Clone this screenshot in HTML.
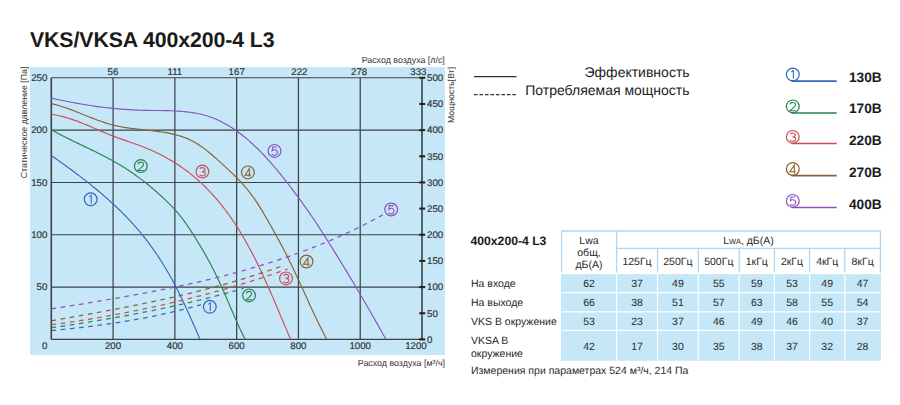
<!DOCTYPE html><html><head><meta charset="utf-8"><style>html,body{margin:0;padding:0;background:#fff;width:900px;height:405px;overflow:hidden}svg{display:block}text{font-family:"Liberation Sans", sans-serif;text-rendering:geometricPrecision}</style></head><body>
<svg width="900" height="405" viewBox="0 0 900 405">
<style>.ax{stroke:#333;stroke-width:0.18px}</style>
<text x="30" y="47" font-size="21.3" font-weight="bold" fill="#1a1a1a" textLength="244.5" lengthAdjust="spacing">VKS/VKSA 400x200-4 L3</text>
<rect x="30" y="67" width="415" height="288" fill="#c6e7f7"/>
<line x1="113.08" y1="77.80" x2="113.08" y2="339.40" stroke="#3c4247" stroke-width="1.25"/><line x1="174.87" y1="77.80" x2="174.87" y2="339.40" stroke="#3c4247" stroke-width="1.25"/><line x1="236.65" y1="77.80" x2="236.65" y2="339.40" stroke="#3c4247" stroke-width="1.25"/><line x1="298.43" y1="77.80" x2="298.43" y2="339.40" stroke="#3c4247" stroke-width="1.25"/><line x1="360.22" y1="77.80" x2="360.22" y2="339.40" stroke="#3c4247" stroke-width="1.25"/><line x1="51.30" y1="339.40" x2="422.00" y2="339.40" stroke="#3c4247" stroke-width="1.1"/><line x1="51.30" y1="287.08" x2="422.00" y2="287.08" stroke="#3c4247" stroke-width="1.1"/><line x1="51.30" y1="234.76" x2="422.00" y2="234.76" stroke="#3c4247" stroke-width="1.1"/><line x1="51.30" y1="182.44" x2="422.00" y2="182.44" stroke="#3c4247" stroke-width="1.1"/><line x1="51.30" y1="130.12" x2="422.00" y2="130.12" stroke="#3c4247" stroke-width="1.1"/><line x1="51.30" y1="77.80" x2="422.00" y2="77.80" stroke="#3c4247" stroke-width="1.1"/><line x1="51.30" y1="77.80" x2="51.30" y2="339.40" stroke="#3c4247" stroke-width="1.6"/><line x1="422.00" y1="77.80" x2="422.00" y2="339.40" stroke="#3c4247" stroke-width="1.6"/><line x1="419.3" y1="339.40" x2="425.2" y2="339.40" stroke="#222" stroke-width="2.1"/><line x1="419.3" y1="313.24" x2="425.2" y2="313.24" stroke="#222" stroke-width="2.1"/><line x1="419.3" y1="287.08" x2="425.2" y2="287.08" stroke="#222" stroke-width="2.1"/><line x1="419.3" y1="260.92" x2="425.2" y2="260.92" stroke="#222" stroke-width="2.1"/><line x1="419.3" y1="234.76" x2="425.2" y2="234.76" stroke="#222" stroke-width="2.1"/><line x1="419.3" y1="208.60" x2="425.2" y2="208.60" stroke="#222" stroke-width="2.1"/><line x1="419.3" y1="182.44" x2="425.2" y2="182.44" stroke="#222" stroke-width="2.1"/><line x1="419.3" y1="156.28" x2="425.2" y2="156.28" stroke="#222" stroke-width="2.1"/><line x1="419.3" y1="130.12" x2="425.2" y2="130.12" stroke="#222" stroke-width="2.1"/><line x1="419.3" y1="103.96" x2="425.2" y2="103.96" stroke="#222" stroke-width="2.1"/><line x1="419.3" y1="77.80" x2="425.2" y2="77.80" stroke="#222" stroke-width="2.1"/>
<path d="M51.28,155.55 L52.93,156.69 L54.57,157.84 L56.21,159.00 L57.86,160.15 L59.50,161.31 L61.14,162.48 L62.78,163.65 L64.42,164.83 L66.06,166.01 L67.69,167.19 L69.33,168.39 L70.96,169.58 L72.59,170.78 L74.21,171.99 L75.84,173.20 L77.46,174.42 L79.08,175.65 L80.69,176.88 L82.30,178.11 L83.91,179.35 L85.51,180.60 L87.10,181.85 L88.70,183.11 L90.29,184.38 L91.87,185.65 L93.45,186.93 L95.02,188.22 L96.59,189.51 L98.15,190.81 L99.70,192.12 L101.25,193.43 L102.80,194.76 L104.33,196.08 L105.86,197.42 L107.38,198.76 L108.90,200.12 L110.40,201.47 L111.90,202.84 L113.40,204.21 L114.88,205.60 L116.35,206.99 L117.82,208.39 L119.28,209.79 L120.73,211.21 L122.17,212.63 L123.60,214.06 L125.02,215.50 L126.43,216.95 L127.83,218.41 L129.22,219.88 L130.60,221.36 L131.97,222.84 L133.33,224.34 L134.68,225.84 L136.01,227.35 L137.34,228.88 L138.65,230.41 L139.95,231.95 L141.24,233.50 L142.52,235.06 L143.78,236.64 L145.03,238.22 L146.27,239.81 L147.50,241.41 L148.72,243.02 L149.92,244.64 L151.11,246.27 L152.29,247.90 L153.46,249.55 L154.61,251.21 L155.76,252.87 L156.89,254.54 L158.01,256.22 L159.12,257.91 L160.22,259.60 L161.31,261.31 L162.39,263.02 L163.45,264.73 L164.51,266.46 L165.55,268.19 L166.59,269.93 L167.61,271.68 L168.62,273.43 L169.63,275.19 L170.62,276.96 L171.60,278.73 L172.57,280.51 L173.53,282.29 L174.49,284.08 L175.43,285.88 L176.36,287.68 L177.28,289.49 L178.20,291.30 L179.11,293.12 L180.00,294.94 L180.89,296.76 L181.78,298.59 L182.65,300.42 L183.52,302.26 L184.39,304.09 L185.24,305.94 L186.09,307.78 L186.94,309.62 L187.78,311.47 L188.62,313.32 L189.45,315.17 L190.27,317.02 L191.10,318.88 L191.92,320.73 L192.73,322.58 L193.55,324.44 L194.36,326.29 L195.17,328.14 L195.98,329.99 L196.78,331.85 L197.59,333.70 L198.39,335.55 L199.20,337.39 L200.00,339.24" fill="none" stroke="#3369b8" stroke-width="1.15"/>
<path d="M51.45,129.91 L53.63,131.09 L55.82,132.26 L58.02,133.41 L60.22,134.55 L62.43,135.68 L64.65,136.80 L66.88,137.91 L69.11,139.01 L71.34,140.11 L73.58,141.20 L75.82,142.29 L78.06,143.37 L80.31,144.46 L82.55,145.54 L84.80,146.62 L87.04,147.71 L89.28,148.80 L91.52,149.89 L93.76,150.99 L95.99,152.09 L98.22,153.20 L100.44,154.33 L102.66,155.46 L104.87,156.60 L107.07,157.76 L109.26,158.93 L111.45,160.11 L113.62,161.31 L115.78,162.53 L117.94,163.77 L120.08,165.03 L122.20,166.30 L124.31,167.60 L126.41,168.93 L128.50,170.27 L130.56,171.65 L132.61,173.04 L134.65,174.46 L136.67,175.91 L138.68,177.37 L140.67,178.86 L142.65,180.37 L144.61,181.89 L146.55,183.44 L148.49,185.01 L150.41,186.59 L152.31,188.20 L154.20,189.82 L156.08,191.45 L157.95,193.11 L159.80,194.77 L161.63,196.46 L163.46,198.15 L165.26,199.87 L167.05,201.60 L168.82,203.35 L170.56,205.12 L172.28,206.91 L173.97,208.73 L175.64,210.56 L177.27,212.43 L178.87,214.31 L180.44,216.23 L181.97,218.17 L183.47,220.14 L184.93,222.14 L186.36,224.16 L187.77,226.20 L189.15,228.26 L190.52,230.33 L191.86,232.42 L193.20,234.51 L194.53,236.61 L195.85,238.72 L197.16,240.84 L198.46,242.96 L199.75,245.09 L201.03,247.23 L202.30,249.38 L203.55,251.53 L204.80,253.69 L206.03,255.86 L207.24,258.03 L208.44,260.21 L209.63,262.40 L210.80,264.60 L211.96,266.80 L213.10,269.01 L214.23,271.23 L215.33,273.46 L216.42,275.69 L217.49,277.93 L218.55,280.18 L219.60,282.44 L220.63,284.69 L221.65,286.96 L222.66,289.22 L223.66,291.50 L224.66,293.77 L225.65,296.05 L226.63,298.33 L227.62,300.61 L228.60,302.89 L229.58,305.17 L230.56,307.46 L231.54,309.74 L232.52,312.02 L233.51,314.30 L234.51,316.58 L235.51,318.85 L236.52,321.12 L237.54,323.39 L238.57,325.66 L239.62,327.92 L240.68,330.17 L241.75,332.42 L242.84,334.66 L243.94,336.89 L245.07,339.12" fill="none" stroke="#26844c" stroke-width="1.15"/>
<path d="M51.40,114.29 L54.34,114.75 L57.25,115.30 L60.12,115.94 L62.97,116.64 L65.79,117.41 L68.58,118.25 L71.36,119.14 L74.11,120.09 L76.85,121.08 L79.57,122.11 L82.28,123.18 L84.98,124.27 L87.67,125.39 L90.35,126.53 L93.03,127.68 L95.71,128.83 L98.39,129.99 L101.07,131.14 L103.76,132.29 L106.45,133.42 L109.15,134.52 L111.87,135.60 L114.60,136.65 L117.35,137.67 L120.10,138.66 L122.86,139.64 L125.63,140.60 L128.40,141.56 L131.17,142.52 L133.93,143.49 L136.69,144.47 L139.44,145.48 L142.18,146.51 L144.90,147.58 L147.60,148.68 L150.28,149.83 L152.95,151.01 L155.60,152.24 L158.22,153.50 L160.83,154.81 L163.41,156.15 L165.97,157.53 L168.51,158.96 L171.03,160.42 L173.52,161.93 L175.99,163.48 L178.43,165.06 L180.85,166.69 L183.24,168.36 L185.60,170.07 L187.94,171.82 L190.24,173.62 L192.52,175.45 L194.77,177.33 L196.99,179.24 L199.18,181.19 L201.33,183.18 L203.46,185.20 L205.55,187.25 L207.62,189.34 L209.65,191.45 L211.65,193.59 L213.61,195.75 L215.55,197.94 L217.45,200.15 L219.32,202.39 L221.15,204.65 L222.96,206.93 L224.74,209.23 L226.48,211.55 L228.20,213.89 L229.89,216.25 L231.56,218.63 L233.20,221.03 L234.81,223.45 L236.39,225.88 L237.96,228.33 L239.50,230.80 L241.01,233.28 L242.50,235.78 L243.98,238.29 L245.43,240.82 L246.86,243.36 L248.27,245.91 L249.66,248.48 L251.03,251.05 L252.39,253.64 L253.73,256.24 L255.05,258.85 L256.35,261.47 L257.65,264.09 L258.92,266.73 L260.19,269.37 L261.44,272.02 L262.68,274.68 L263.90,277.34 L265.12,280.01 L266.33,282.69 L267.52,285.36 L268.71,288.05 L269.89,290.73 L271.06,293.42 L272.23,296.11 L273.39,298.80 L274.54,301.50 L275.69,304.19 L276.84,306.88 L277.98,309.58 L279.12,312.27 L280.26,314.96 L281.39,317.64 L282.53,320.33 L283.66,323.01 L284.80,325.69 L285.94,328.36 L287.08,331.03 L288.22,333.69 L289.36,336.35 L290.51,339.00" fill="none" stroke="#cc4d58" stroke-width="1.15"/>
<path d="M51.40,103.57 L54.58,104.35 L57.74,105.23 L60.87,106.18 L63.99,107.20 L67.09,108.28 L70.18,109.40 L73.25,110.57 L76.32,111.77 L79.38,112.99 L82.44,114.22 L85.49,115.45 L88.55,116.68 L91.60,117.89 L94.67,119.07 L97.73,120.22 L100.81,121.33 L103.90,122.37 L107.00,123.36 L110.12,124.27 L113.26,125.10 L116.41,125.85 L119.59,126.51 L122.78,127.10 L125.99,127.62 L129.22,128.10 L132.47,128.53 L135.73,128.92 L139.01,129.30 L142.30,129.66 L145.61,130.01 L148.92,130.37 L152.24,130.74 L155.56,131.14 L158.87,131.57 L162.17,132.05 L165.45,132.58 L168.70,133.17 L171.92,133.84 L175.11,134.59 L178.26,135.44 L181.36,136.38 L184.40,137.44 L187.39,138.62 L190.31,139.94 L193.16,141.39 L195.95,142.97 L198.68,144.68 L201.35,146.49 L203.98,148.39 L206.56,150.38 L209.11,152.44 L211.63,154.56 L214.12,156.73 L216.59,158.94 L219.05,161.17 L221.50,163.41 L223.94,165.65 L226.38,167.89 L228.81,170.15 L231.22,172.41 L233.60,174.69 L235.95,177.00 L238.27,179.33 L240.54,181.69 L242.77,184.08 L244.94,186.52 L247.04,189.00 L249.09,191.53 L251.06,194.11 L252.98,196.73 L254.85,199.39 L256.66,202.09 L258.43,204.82 L260.16,207.57 L261.86,210.36 L263.53,213.16 L265.18,215.98 L266.82,218.82 L268.44,221.66 L270.06,224.51 L271.67,227.37 L273.28,230.23 L274.87,233.10 L276.46,235.97 L278.03,238.85 L279.59,241.74 L281.14,244.63 L282.68,247.53 L284.19,250.44 L285.70,253.36 L287.18,256.28 L288.64,259.21 L290.09,262.15 L291.52,265.10 L292.93,268.06 L294.34,271.01 L295.73,273.98 L297.11,276.95 L298.48,279.92 L299.85,282.89 L301.21,285.87 L302.57,288.85 L303.93,291.83 L305.28,294.81 L306.64,297.79 L308.00,300.77 L309.36,303.74 L310.73,306.72 L312.11,309.69 L313.50,312.66 L314.89,315.62 L316.30,318.58 L317.72,321.53 L319.16,324.48 L320.61,327.42 L322.08,330.35 L323.57,333.28 L325.08,336.19 L326.61,339.10" fill="none" stroke="#886333" stroke-width="1.15"/>
<path d="M51.37,98.11 L55.13,98.94 L58.89,99.76 L62.63,100.54 L66.36,101.30 L70.07,102.03 L73.78,102.73 L77.48,103.40 L81.17,104.05 L84.86,104.66 L88.55,105.25 L92.23,105.80 L95.91,106.33 L99.59,106.83 L103.27,107.29 L106.96,107.73 L110.65,108.13 L114.35,108.51 L118.05,108.85 L121.77,109.15 L125.49,109.43 L129.23,109.67 L132.98,109.88 L136.75,110.06 L140.53,110.21 L144.33,110.32 L148.14,110.39 L151.98,110.45 L155.82,110.50 L159.66,110.54 L163.51,110.60 L167.35,110.69 L171.19,110.80 L175.02,110.97 L178.82,111.18 L182.61,111.47 L186.38,111.83 L190.11,112.28 L193.81,112.84 L197.48,113.50 L201.10,114.29 L204.68,115.21 L208.20,116.28 L211.68,117.49 L215.10,118.84 L218.47,120.33 L221.79,121.94 L225.06,123.67 L228.29,125.52 L231.46,127.47 L234.58,129.53 L237.66,131.69 L240.68,133.94 L243.66,136.27 L246.60,138.68 L249.48,141.17 L252.32,143.72 L255.12,146.33 L257.87,148.99 L260.57,151.70 L263.23,154.46 L265.85,157.25 L268.42,160.07 L270.95,162.92 L273.44,165.78 L275.89,168.66 L278.30,171.55 L280.67,174.46 L283.02,177.38 L285.34,180.32 L287.63,183.26 L289.90,186.23 L292.15,189.20 L294.39,192.19 L296.61,195.18 L298.83,198.19 L301.04,201.21 L303.24,204.24 L305.42,207.29 L307.59,210.35 L309.75,213.43 L311.88,216.53 L313.99,219.64 L316.08,222.77 L318.15,225.92 L320.21,229.08 L322.25,232.24 L324.29,235.42 L326.31,238.60 L328.32,241.79 L330.32,244.99 L332.32,248.18 L334.31,251.38 L336.29,254.59 L338.27,257.79 L340.24,261.00 L342.21,264.22 L344.16,267.43 L346.11,270.65 L348.06,273.87 L350.00,277.10 L351.93,280.33 L353.86,283.56 L355.78,286.80 L357.69,290.04 L359.60,293.28 L361.50,296.53 L363.40,299.77 L365.29,303.03 L367.18,306.28 L369.06,309.54 L370.94,312.80 L372.81,316.07 L374.67,319.33 L376.53,322.60 L378.39,325.88 L380.24,329.16 L382.08,332.44 L383.92,335.72 L385.76,339.01" fill="none" stroke="#8a52bc" stroke-width="1.15"/>
<path d="M51.50,330.51 L52.77,330.39 L54.04,330.28 L55.31,330.16 L56.58,330.04 L57.85,329.92 L59.12,329.80 L60.39,329.68 L61.66,329.55 L62.93,329.43 L64.20,329.30 L65.47,329.17 L66.74,329.04 L68.01,328.91 L69.27,328.78 L70.54,328.65 L71.81,328.51 L73.08,328.37 L74.35,328.23 L75.62,328.09 L76.89,327.95 L78.16,327.81 L79.43,327.67 L80.69,327.52 L81.96,327.37 L83.23,327.22 L84.50,327.07 L85.77,326.92 L87.03,326.77 L88.30,326.61 L89.57,326.46 L90.84,326.30 L92.10,326.14 L93.37,325.98 L94.64,325.81 L95.90,325.65 L97.17,325.48 L98.44,325.31 L99.70,325.14 L100.97,324.97 L102.23,324.80 L103.50,324.62 L104.76,324.44 L106.03,324.26 L107.29,324.08 L108.56,323.90 L109.82,323.72 L111.08,323.53 L112.35,323.34 L113.61,323.15 L114.87,322.96 L116.14,322.77 L117.40,322.57 L118.66,322.38 L119.92,322.18 L121.18,321.98 L122.44,321.77 L123.71,321.57 L124.97,321.36 L126.23,321.15 L127.49,320.94 L128.74,320.73 L130.00,320.52 L131.26,320.30 L132.52,320.08 L133.78,319.86 L135.04,319.64 L136.29,319.42 L137.55,319.19 L138.81,318.96 L140.06,318.73 L141.32,318.50 L142.57,318.26 L143.83,318.03 L145.08,317.79 L146.33,317.55 L147.59,317.30 L148.84,317.06 L150.09,316.81 L151.35,316.56 L152.60,316.31 L153.85,316.06 L155.10,315.80 L156.35,315.54 L157.60,315.28 L158.85,315.02 L160.10,314.76 L161.34,314.49 L162.59,314.22 L163.84,313.95 L165.08,313.67 L166.33,313.40 L167.58,313.12 L168.82,312.84 L170.06,312.56 L171.31,312.27 L172.55,311.98 L173.79,311.69 L175.04,311.40 L176.28,311.11 L177.52,310.81 L178.76,310.51 L180.00,310.21 L181.24,309.90 L182.48,309.60 L183.71,309.29 L184.95,308.98 L186.19,308.66 L187.42,308.34 L188.66,308.03 L189.89,307.70 L191.13,307.38 L192.36,307.05 L193.59,306.72 L194.82,306.39 L196.06,306.06 L197.29,305.72 L198.52,305.38 L199.74,305.04 L200.97,304.70" fill="none" stroke="#3369b8" stroke-width="1.25" stroke-dasharray="4.62 4.62"/>
<path d="M51.49,327.67 L53.12,327.43 L54.76,327.20 L56.39,326.97 L58.02,326.73 L59.65,326.50 L61.28,326.26 L62.91,326.02 L64.54,325.78 L66.18,325.54 L67.81,325.29 L69.44,325.05 L71.07,324.80 L72.70,324.56 L74.33,324.31 L75.95,324.06 L77.58,323.81 L79.21,323.56 L80.84,323.30 L82.47,323.05 L84.10,322.79 L85.72,322.53 L87.35,322.27 L88.98,322.01 L90.61,321.75 L92.23,321.48 L93.86,321.22 L95.48,320.95 L97.11,320.68 L98.74,320.41 L100.36,320.14 L101.99,319.87 L103.61,319.60 L105.23,319.32 L106.86,319.04 L108.48,318.76 L110.11,318.48 L111.73,318.20 L113.35,317.92 L114.97,317.63 L116.60,317.34 L118.22,317.05 L119.84,316.76 L121.46,316.47 L123.08,316.18 L124.70,315.88 L126.32,315.58 L127.94,315.29 L129.56,314.98 L131.18,314.68 L132.80,314.38 L134.42,314.07 L136.03,313.76 L137.65,313.45 L139.27,313.14 L140.88,312.83 L142.50,312.51 L144.12,312.20 L145.73,311.88 L147.35,311.56 L148.96,311.24 L150.58,310.91 L152.19,310.59 L153.80,310.26 L155.42,309.93 L157.03,309.60 L158.64,309.26 L160.25,308.93 L161.87,308.59 L163.48,308.25 L165.09,307.91 L166.70,307.56 L168.31,307.22 L169.92,306.87 L171.52,306.52 L173.13,306.17 L174.74,305.82 L176.35,305.46 L177.96,305.10 L179.56,304.74 L181.17,304.38 L182.77,304.02 L184.38,303.65 L185.98,303.28 L187.59,302.91 L189.19,302.54 L190.80,302.16 L192.40,301.79 L194.00,301.41 L195.60,301.03 L197.20,300.64 L198.80,300.26 L200.40,299.87 L202.00,299.48 L203.60,299.09 L205.20,298.69 L206.80,298.30 L208.40,297.90 L210.00,297.49 L211.59,297.09 L213.19,296.68 L214.78,296.28 L216.38,295.87 L217.97,295.45 L219.57,295.04 L221.16,294.62 L222.75,294.20 L224.35,293.78 L225.94,293.35 L227.53,292.92 L229.12,292.49 L230.71,292.06 L232.30,291.63 L233.89,291.19 L235.48,290.75 L237.07,290.31 L238.65,289.86 L240.24,289.42 L241.82,288.97 L243.41,288.51" fill="none" stroke="#26844c" stroke-width="1.25" stroke-dasharray="4.62 4.62"/>
<path d="M51.47,324.77 L53.50,324.49 L55.53,324.21 L57.55,323.93 L59.58,323.64 L61.61,323.36 L63.63,323.06 L65.66,322.77 L67.68,322.47 L69.71,322.17 L71.73,321.87 L73.75,321.56 L75.77,321.25 L77.80,320.94 L79.82,320.63 L81.84,320.31 L83.86,319.99 L85.88,319.66 L87.90,319.34 L89.92,319.01 L91.93,318.67 L93.95,318.34 L95.97,318.00 L97.98,317.65 L100.00,317.31 L102.01,316.96 L104.03,316.61 L106.04,316.25 L108.05,315.89 L110.06,315.53 L112.08,315.17 L114.09,314.80 L116.10,314.43 L118.11,314.06 L120.11,313.68 L122.12,313.30 L124.13,312.91 L126.14,312.53 L128.14,312.14 L130.15,311.74 L132.15,311.35 L134.15,310.95 L136.16,310.55 L138.16,310.14 L140.16,309.73 L142.16,309.32 L144.16,308.90 L146.16,308.48 L148.16,308.06 L150.16,307.63 L152.15,307.20 L154.15,306.77 L156.14,306.34 L158.14,305.90 L160.13,305.45 L162.13,305.01 L164.12,304.56 L166.11,304.10 L168.10,303.65 L170.09,303.19 L172.08,302.72 L174.07,302.26 L176.05,301.79 L178.04,301.31 L180.02,300.84 L182.01,300.36 L183.99,299.87 L185.97,299.39 L187.96,298.89 L189.94,298.40 L191.92,297.90 L193.90,297.40 L195.87,296.90 L197.85,296.39 L199.83,295.87 L201.80,295.36 L203.78,294.84 L205.75,294.32 L207.72,293.79 L209.69,293.26 L211.67,292.73 L213.64,292.19 L215.60,291.65 L217.57,291.10 L219.54,290.56 L221.50,290.00 L223.47,289.45 L225.43,288.89 L227.40,288.33 L229.36,287.76 L231.32,287.19 L233.28,286.61 L235.24,286.04 L237.19,285.46 L239.15,284.87 L241.11,284.28 L243.06,283.69 L245.01,283.09 L246.97,282.49 L248.92,281.89 L250.87,281.28 L252.82,280.67 L254.77,280.05 L256.71,279.43 L258.66,278.81 L260.60,278.18 L262.55,277.55 L264.49,276.92 L266.43,276.28 L268.37,275.64 L270.31,274.99 L272.25,274.34 L274.19,273.68 L276.12,273.03 L278.06,272.36 L279.99,271.70 L281.92,271.03 L283.85,270.35 L285.78,269.68 L287.71,268.99" fill="none" stroke="#cc4d58" stroke-width="1.25" stroke-dasharray="4.62 4.62"/>
<path d="M51.49,320.83 L53.44,320.48 L55.39,320.14 L57.35,319.79 L59.30,319.44 L61.25,319.09 L63.21,318.74 L65.16,318.39 L67.11,318.04 L69.07,317.69 L71.02,317.34 L72.97,316.99 L74.93,316.64 L76.88,316.29 L78.84,315.94 L80.79,315.58 L82.74,315.23 L84.70,314.87 L86.65,314.52 L88.60,314.16 L90.56,313.80 L92.51,313.44 L94.46,313.08 L96.42,312.72 L98.37,312.36 L100.32,312.00 L102.28,311.64 L104.23,311.27 L106.18,310.90 L108.13,310.53 L110.08,310.17 L112.03,309.79 L113.99,309.42 L115.94,309.05 L117.89,308.67 L119.84,308.30 L121.79,307.92 L123.74,307.54 L125.69,307.16 L127.63,306.77 L129.58,306.39 L131.53,306.00 L133.48,305.61 L135.43,305.22 L137.37,304.82 L139.32,304.43 L141.26,304.03 L143.21,303.63 L145.15,303.23 L147.10,302.83 L149.04,302.42 L150.99,302.01 L152.93,301.60 L154.87,301.19 L156.81,300.77 L158.75,300.35 L160.69,299.93 L162.63,299.51 L164.57,299.08 L166.51,298.65 L168.45,298.22 L170.38,297.79 L172.32,297.35 L174.25,296.91 L176.19,296.47 L178.12,296.02 L180.06,295.57 L181.99,295.12 L183.92,294.66 L185.85,294.21 L187.78,293.74 L189.71,293.28 L191.64,292.81 L193.56,292.34 L195.49,291.87 L197.42,291.39 L199.34,290.91 L201.26,290.42 L203.19,289.93 L205.11,289.44 L207.03,288.95 L208.95,288.45 L210.87,287.94 L212.79,287.44 L214.70,286.93 L216.62,286.41 L218.53,285.89 L220.45,285.37 L222.36,284.85 L224.27,284.32 L226.18,283.78 L228.09,283.24 L230.00,282.70 L231.90,282.15 L233.81,281.60 L235.71,281.05 L237.62,280.49 L239.52,279.92 L241.42,279.36 L243.32,278.78 L245.22,278.21 L247.11,277.62 L249.01,277.04 L250.90,276.45 L252.80,275.85 L254.69,275.25 L256.58,274.64 L258.47,274.03 L260.35,273.42 L262.24,272.80 L264.12,272.17 L266.01,271.54 L267.89,270.91 L269.77,270.27 L271.65,269.62 L273.53,268.97 L275.40,268.32 L277.28,267.66 L279.15,266.99 L281.02,266.32" fill="none" stroke="#886333" stroke-width="1.25" stroke-dasharray="4.62 4.62"/>
<path d="M51.54,308.88 L54.40,308.42 L57.26,307.96 L60.11,307.51 L62.97,307.05 L65.83,306.59 L68.69,306.13 L71.56,305.67 L74.42,305.21 L77.28,304.74 L80.14,304.28 L83.01,303.81 L85.87,303.34 L88.74,302.87 L91.61,302.39 L94.47,301.92 L97.34,301.44 L100.20,300.96 L103.07,300.48 L105.94,299.99 L108.81,299.50 L111.67,299.01 L114.54,298.51 L117.41,298.01 L120.27,297.51 L123.14,297.00 L126.01,296.49 L128.87,295.98 L131.74,295.46 L134.60,294.94 L137.47,294.42 L140.33,293.89 L143.19,293.35 L146.06,292.81 L148.92,292.27 L151.78,291.72 L154.64,291.17 L157.50,290.61 L160.35,290.04 L163.21,289.47 L166.06,288.90 L168.92,288.32 L171.77,287.73 L174.62,287.14 L177.47,286.54 L180.32,285.93 L183.17,285.32 L186.01,284.70 L188.86,284.08 L191.70,283.45 L194.54,282.81 L197.38,282.17 L200.21,281.52 L203.05,280.86 L205.88,280.19 L208.71,279.52 L211.54,278.83 L214.36,278.15 L217.19,277.45 L220.01,276.74 L222.83,276.03 L225.64,275.31 L228.46,274.58 L231.27,273.84 L234.07,273.09 L236.88,272.34 L239.68,271.57 L242.48,270.80 L245.28,270.02 L248.07,269.23 L250.86,268.42 L253.65,267.61 L256.44,266.79 L259.22,265.96 L262.00,265.12 L264.77,264.27 L267.54,263.41 L270.31,262.54 L273.08,261.66 L275.84,260.77 L278.59,259.86 L281.35,258.95 L284.10,258.02 L286.84,257.09 L289.58,256.14 L292.32,255.18 L295.06,254.21 L297.79,253.23 L300.51,252.24 L303.23,251.23 L305.95,250.22 L308.66,249.19 L311.37,248.15 L314.08,247.09 L316.78,246.03 L319.47,244.95 L322.16,243.85 L324.85,242.75 L327.53,241.63 L330.20,240.50 L332.87,239.36 L335.54,238.20 L338.20,237.03 L340.86,235.84 L343.51,234.64 L346.15,233.43 L348.79,232.20 L351.43,230.96 L354.06,229.71 L356.68,228.44 L359.30,227.15 L361.92,225.85 L364.52,224.54 L367.12,223.21 L369.72,221.86 L372.31,220.50 L374.90,219.13 L377.47,217.74 L380.05,216.33 L382.61,214.91" fill="none" stroke="#8a52bc" stroke-width="1.25" stroke-dasharray="4.62 4.62"/>
<circle cx="90.7" cy="199.3" r="6.4" fill="none" stroke="#3369b8" stroke-width="1.2"/><path transform="translate(90.70,199.30)" d="M-1.4,-2.5 L0.5,-3.9 V4.3" fill="none" stroke="#3369b8" stroke-width="1.05"/>
<circle cx="140.8" cy="166.1" r="6.4" fill="none" stroke="#26844c" stroke-width="1.2"/><path transform="translate(140.80,166.10)" d="M-2.6,-1.9 C-2.6,-3.6 -1.2,-4.0 0.1,-4.0 C1.6,-4.0 2.7,-3.1 2.7,-1.7 C2.7,0.2 0.4,1.4 -2.8,4.3 H3.0" fill="none" stroke="#26844c" stroke-width="1.05"/>
<circle cx="202.4" cy="171.6" r="6.4" fill="none" stroke="#cc4d58" stroke-width="1.2"/><path transform="translate(202.40,171.60)" d="M-2.5,-2.9 C-2.0,-3.7 -1.0,-4.0 0.0,-4.0 C1.6,-4.0 2.6,-3.2 2.6,-2.0 C2.6,-0.7 1.4,-0.1 -0.3,0.0 C1.8,0.0 2.9,0.9 2.9,2.2 C2.9,3.6 1.7,4.4 0.0,4.4 C-1.3,4.4 -2.3,3.9 -2.8,3.0" fill="none" stroke="#cc4d58" stroke-width="1.05"/>
<circle cx="247.9" cy="172.4" r="6.4" fill="none" stroke="#886333" stroke-width="1.2"/><path transform="translate(247.90,172.40)" d="M3.0,2.7 H-3.0 L1.5,-3.9 V4.4" fill="none" stroke="#886333" stroke-width="1.05"/>
<circle cx="274.5" cy="150.9" r="6.4" fill="none" stroke="#8a52bc" stroke-width="1.2"/><path transform="translate(274.50,150.90)" d="M2.4,-3.9 H-1.8 L-2.3,-0.2 C-1.6,-0.9 -0.8,-1.2 0.2,-1.2 C1.8,-1.2 2.9,-0.1 2.9,1.5 C2.9,3.2 1.7,4.4 0.0,4.4 C-1.3,4.4 -2.3,3.9 -2.8,3.0" fill="none" stroke="#8a52bc" stroke-width="1.05"/>
<circle cx="209.8" cy="306.8" r="6.4" fill="none" stroke="#3369b8" stroke-width="1.2"/><path transform="translate(209.80,306.80)" d="M-1.4,-2.5 L0.5,-3.9 V4.3" fill="none" stroke="#3369b8" stroke-width="1.05"/>
<circle cx="249.0" cy="295.4" r="6.4" fill="none" stroke="#26844c" stroke-width="1.2"/><path transform="translate(249.00,295.40)" d="M-2.6,-1.9 C-2.6,-3.6 -1.2,-4.0 0.1,-4.0 C1.6,-4.0 2.7,-3.1 2.7,-1.7 C2.7,0.2 0.4,1.4 -2.8,4.3 H3.0" fill="none" stroke="#26844c" stroke-width="1.05"/>
<circle cx="286.0" cy="278.4" r="6.4" fill="none" stroke="#cc4d58" stroke-width="1.2"/><path transform="translate(286.00,278.40)" d="M-2.5,-2.9 C-2.0,-3.7 -1.0,-4.0 0.0,-4.0 C1.6,-4.0 2.6,-3.2 2.6,-2.0 C2.6,-0.7 1.4,-0.1 -0.3,0.0 C1.8,0.0 2.9,0.9 2.9,2.2 C2.9,3.6 1.7,4.4 0.0,4.4 C-1.3,4.4 -2.3,3.9 -2.8,3.0" fill="none" stroke="#cc4d58" stroke-width="1.05"/>
<circle cx="306.5" cy="261.5" r="6.4" fill="none" stroke="#886333" stroke-width="1.2"/><path transform="translate(306.50,261.50)" d="M3.0,2.7 H-3.0 L1.5,-3.9 V4.4" fill="none" stroke="#886333" stroke-width="1.05"/>
<circle cx="391.2" cy="209.5" r="6.4" fill="none" stroke="#8a52bc" stroke-width="1.2"/><path transform="translate(391.20,209.50)" d="M2.4,-3.9 H-1.8 L-2.3,-0.2 C-1.6,-0.9 -0.8,-1.2 0.2,-1.2 C1.8,-1.2 2.9,-0.1 2.9,1.5 C2.9,3.2 1.7,4.4 0.0,4.4 C-1.3,4.4 -2.3,3.9 -2.8,3.0" fill="none" stroke="#8a52bc" stroke-width="1.05"/>
<text x="47.4" y="290.38" font-size="9.7" text-anchor="end" fill="#333" class="ax">50</text><text x="47.4" y="238.06" font-size="9.7" text-anchor="end" fill="#333" class="ax">100</text><text x="47.4" y="185.74" font-size="9.7" text-anchor="end" fill="#333" class="ax">150</text><text x="47.4" y="133.42" font-size="9.7" text-anchor="end" fill="#333" class="ax">200</text><text x="47.4" y="81.10" font-size="9.7" text-anchor="end" fill="#333" class="ax">250</text><text x="44.8" y="348.9" font-size="9.7" text-anchor="middle" fill="#333" class="ax">0</text><text x="113.08" y="348.9" font-size="9.7" text-anchor="middle" fill="#333" class="ax">200</text><text x="174.87" y="348.9" font-size="9.7" text-anchor="middle" fill="#333" class="ax">400</text><text x="236.65" y="348.9" font-size="9.7" text-anchor="middle" fill="#333" class="ax">600</text><text x="298.43" y="348.9" font-size="9.7" text-anchor="middle" fill="#333" class="ax">800</text><text x="360.22" y="348.9" font-size="9.7" text-anchor="middle" fill="#333" class="ax">1000</text><text x="426.7" y="348.9" font-size="9.7" text-anchor="end" fill="#333" class="ax">1200</text><text x="112.90" y="74.6" font-size="9.7" text-anchor="middle" fill="#333" class="ax">56</text><text x="174.90" y="74.6" font-size="9.7" text-anchor="middle" fill="#333" class="ax">111</text><text x="236.70" y="74.6" font-size="9.7" text-anchor="middle" fill="#333" class="ax">167</text><text x="299.40" y="74.6" font-size="9.7" text-anchor="middle" fill="#333" class="ax">222</text><text x="359.10" y="74.6" font-size="9.7" text-anchor="middle" fill="#333" class="ax">278</text><text x="418.40" y="74.6" font-size="9.7" text-anchor="middle" fill="#333" class="ax">333</text><text x="427" y="342.70" font-size="9.7" fill="#333" class="ax">0</text><text x="427" y="316.54" font-size="9.7" fill="#333" class="ax">50</text><text x="427" y="290.38" font-size="9.7" fill="#333" class="ax">100</text><text x="427" y="264.22" font-size="9.7" fill="#333" class="ax">150</text><text x="427" y="238.06" font-size="9.7" fill="#333" class="ax">200</text><text x="427" y="211.90" font-size="9.7" fill="#333" class="ax">250</text><text x="427" y="185.74" font-size="9.7" fill="#333" class="ax">300</text><text x="427" y="159.58" font-size="9.7" fill="#333" class="ax">350</text><text x="427" y="133.42" font-size="9.7" fill="#333" class="ax">400</text><text x="427" y="107.26" font-size="9.7" fill="#333" class="ax">450</text><text x="427" y="81.10" font-size="9.7" fill="#333" class="ax">500</text><text x="444.8" y="63.1" font-size="8.85" text-anchor="end" fill="#333">Расход воздуха [л/с]</text><text x="445" y="365.8" font-size="8.85" text-anchor="end" fill="#333">Расход воздуха [м³/ч]</text><text transform="translate(27.2,178.3) rotate(-90)" font-size="8.8" fill="#333">Статическое давление [Па]</text><text transform="translate(453.7,123) rotate(-90)" font-size="8.7" fill="#333">Мощность[Вт]</text>
<line x1="474" y1="76.6" x2="516.5" y2="76.6" stroke="#333" stroke-width="1.3"/>
<line x1="474" y1="94.6" x2="516" y2="94.6" stroke="#333" stroke-width="1.3" stroke-dasharray="3.6 1.88"/>
<text x="689.6" y="77.4" font-size="14" text-anchor="end" fill="#222">Эффективность</text>
<text x="689.6" y="94.6" font-size="14" text-anchor="end" fill="#222">Потребляемая мощность</text>
<line x1="791.5" y1="81.1" x2="836.7" y2="81.1" stroke="#3369b8" stroke-width="1.6"/>
<circle cx="792.8" cy="74.5" r="6.4" fill="none" stroke="#3369b8" stroke-width="1.2"/><path transform="translate(792.80,74.50)" d="M-1.4,-2.5 L0.5,-3.9 V4.3" fill="none" stroke="#3369b8" stroke-width="1.05"/>
<text x="849" y="82.1" font-size="13.7" font-weight="bold" fill="#1a1a1a">130B</text>
<line x1="791.5" y1="113.0" x2="836.7" y2="113.0" stroke="#26844c" stroke-width="1.6"/>
<circle cx="792.8" cy="106.4" r="6.4" fill="none" stroke="#26844c" stroke-width="1.2"/><path transform="translate(792.80,106.40)" d="M-2.6,-1.9 C-2.6,-3.6 -1.2,-4.0 0.1,-4.0 C1.6,-4.0 2.7,-3.1 2.7,-1.7 C2.7,0.2 0.4,1.4 -2.8,4.3 H3.0" fill="none" stroke="#26844c" stroke-width="1.05"/>
<text x="849" y="113.3" font-size="13.7" font-weight="bold" fill="#1a1a1a">170B</text>
<line x1="791.5" y1="143.5" x2="836.7" y2="143.5" stroke="#cc4d58" stroke-width="1.6"/>
<circle cx="792.8" cy="136.9" r="6.4" fill="none" stroke="#cc4d58" stroke-width="1.2"/><path transform="translate(792.80,136.90)" d="M-2.5,-2.9 C-2.0,-3.7 -1.0,-4.0 0.0,-4.0 C1.6,-4.0 2.6,-3.2 2.6,-2.0 C2.6,-0.7 1.4,-0.1 -0.3,0.0 C1.8,0.0 2.9,0.9 2.9,2.2 C2.9,3.6 1.7,4.4 0.0,4.4 C-1.3,4.4 -2.3,3.9 -2.8,3.0" fill="none" stroke="#cc4d58" stroke-width="1.05"/>
<text x="849" y="144.6" font-size="13.7" font-weight="bold" fill="#1a1a1a">220B</text>
<line x1="791.5" y1="175.6" x2="836.7" y2="175.6" stroke="#886333" stroke-width="1.6"/>
<circle cx="792.8" cy="169.0" r="6.4" fill="none" stroke="#886333" stroke-width="1.2"/><path transform="translate(792.80,169.00)" d="M3.0,2.7 H-3.0 L1.5,-3.9 V4.4" fill="none" stroke="#886333" stroke-width="1.05"/>
<text x="849" y="177.1" font-size="13.7" font-weight="bold" fill="#1a1a1a">270B</text>
<line x1="791.5" y1="207.5" x2="836.7" y2="207.5" stroke="#8a52bc" stroke-width="1.6"/>
<circle cx="792.8" cy="200.9" r="6.4" fill="none" stroke="#8a52bc" stroke-width="1.2"/><path transform="translate(792.80,200.90)" d="M2.4,-3.9 H-1.8 L-2.3,-0.2 C-1.6,-0.9 -0.8,-1.2 0.2,-1.2 C1.8,-1.2 2.9,-0.1 2.9,1.5 C2.9,3.2 1.7,4.4 0.0,4.4 C-1.3,4.4 -2.3,3.9 -2.8,3.0" fill="none" stroke="#8a52bc" stroke-width="1.05"/>
<text x="849" y="209.0" font-size="13.7" font-weight="bold" fill="#1a1a1a">400B</text>
<text x="470.5" y="244.8" font-size="12.2" font-weight="bold" fill="#1a1a1a">400x200-4 L3</text><path d="M561.6,272.6 V231.0 H880.4 V272.6" fill="none" stroke="#b2d5ef" stroke-width="1.3"/><line x1="616.6" y1="231.0" x2="616.6" y2="272.6" stroke="#b2d5ef" stroke-width="1.3"/><line x1="616.6" y1="248.3" x2="880.4" y2="248.3" stroke="#b2d5ef" stroke-width="1.3"/><line x1="657.5" y1="248.3" x2="657.5" y2="272.6" stroke="#b2d5ef" stroke-width="1.3"/><line x1="698.3" y1="248.3" x2="698.3" y2="272.6" stroke="#b2d5ef" stroke-width="1.3"/><line x1="739.2" y1="248.3" x2="739.2" y2="272.6" stroke="#b2d5ef" stroke-width="1.3"/><line x1="774.4" y1="248.3" x2="774.4" y2="272.6" stroke="#b2d5ef" stroke-width="1.3"/><line x1="809.6" y1="248.3" x2="809.6" y2="272.6" stroke="#b2d5ef" stroke-width="1.3"/><line x1="844.8" y1="248.3" x2="844.8" y2="272.6" stroke="#b2d5ef" stroke-width="1.3"/><rect x="561.0" y="274.1" width="320.0" height="86.7" fill="#c6e7f7"/><line x1="616.6" y1="273.6" x2="616.6" y2="360.8" stroke="#fff" stroke-width="1.2"/><line x1="657.5" y1="273.6" x2="657.5" y2="360.8" stroke="#fff" stroke-width="1.2"/><line x1="698.3" y1="273.6" x2="698.3" y2="360.8" stroke="#fff" stroke-width="1.2"/><line x1="739.2" y1="273.6" x2="739.2" y2="360.8" stroke="#fff" stroke-width="1.2"/><line x1="774.4" y1="273.6" x2="774.4" y2="360.8" stroke="#fff" stroke-width="1.2"/><line x1="809.6" y1="273.6" x2="809.6" y2="360.8" stroke="#fff" stroke-width="1.2"/><line x1="844.8" y1="273.6" x2="844.8" y2="360.8" stroke="#fff" stroke-width="1.2"/><line x1="561.6" y1="292.7" x2="880.4" y2="292.7" stroke="#fff" stroke-width="1.2"/><line x1="561.6" y1="311.9" x2="880.4" y2="311.9" stroke="#fff" stroke-width="1.2"/><line x1="561.6" y1="330.4" x2="880.4" y2="330.4" stroke="#fff" stroke-width="1.2"/><text x="589" y="244.1" font-size="10.5" text-anchor="middle" fill="#2a2a2a">Lwa</text><text x="589" y="256.3" font-size="10.5" text-anchor="middle" fill="#2a2a2a">общ,</text><text x="589" y="268.3" font-size="10.5" text-anchor="middle" fill="#2a2a2a">дБ(А)</text><text x="748.5" y="244.1" font-size="10.5" text-anchor="middle" fill="#2a2a2a">L<tspan font-size="7.5">WA</tspan>, дБ(А)</text><text x="637.0" y="265.3" font-size="10.5" text-anchor="middle" fill="#2a2a2a">125Гц</text><text x="677.9" y="265.3" font-size="10.5" text-anchor="middle" fill="#2a2a2a">250Гц</text><text x="718.8" y="265.3" font-size="10.5" text-anchor="middle" fill="#2a2a2a">500Гц</text><text x="756.8" y="265.3" font-size="10.5" text-anchor="middle" fill="#2a2a2a">1кГц</text><text x="792.0" y="265.3" font-size="10.5" text-anchor="middle" fill="#2a2a2a">2кГц</text><text x="827.2" y="265.3" font-size="10.5" text-anchor="middle" fill="#2a2a2a">4кГц</text><text x="862.6" y="265.3" font-size="10.5" text-anchor="middle" fill="#2a2a2a">8кГц</text><text x="471" y="286.9" font-size="10.5" fill="#2a2a2a">На входе</text><text x="589.1" y="286.9" font-size="10.5" text-anchor="middle" fill="#2a2a2a">62</text><text x="637.0" y="286.9" font-size="10.5" text-anchor="middle" fill="#2a2a2a">37</text><text x="677.9" y="286.9" font-size="10.5" text-anchor="middle" fill="#2a2a2a">49</text><text x="718.8" y="286.9" font-size="10.5" text-anchor="middle" fill="#2a2a2a">55</text><text x="756.8" y="286.9" font-size="10.5" text-anchor="middle" fill="#2a2a2a">59</text><text x="792.0" y="286.9" font-size="10.5" text-anchor="middle" fill="#2a2a2a">53</text><text x="827.2" y="286.9" font-size="10.5" text-anchor="middle" fill="#2a2a2a">49</text><text x="862.6" y="286.9" font-size="10.5" text-anchor="middle" fill="#2a2a2a">47</text><text x="471" y="306.1" font-size="10.5" fill="#2a2a2a">На выходе</text><text x="589.1" y="306.1" font-size="10.5" text-anchor="middle" fill="#2a2a2a">66</text><text x="637.0" y="306.1" font-size="10.5" text-anchor="middle" fill="#2a2a2a">38</text><text x="677.9" y="306.1" font-size="10.5" text-anchor="middle" fill="#2a2a2a">51</text><text x="718.8" y="306.1" font-size="10.5" text-anchor="middle" fill="#2a2a2a">57</text><text x="756.8" y="306.1" font-size="10.5" text-anchor="middle" fill="#2a2a2a">63</text><text x="792.0" y="306.1" font-size="10.5" text-anchor="middle" fill="#2a2a2a">58</text><text x="827.2" y="306.1" font-size="10.5" text-anchor="middle" fill="#2a2a2a">55</text><text x="862.6" y="306.1" font-size="10.5" text-anchor="middle" fill="#2a2a2a">54</text><text x="471" y="324.9" font-size="10.5" fill="#2a2a2a">VKS В окружение</text><text x="589.1" y="324.9" font-size="10.5" text-anchor="middle" fill="#2a2a2a">53</text><text x="637.0" y="324.9" font-size="10.5" text-anchor="middle" fill="#2a2a2a">23</text><text x="677.9" y="324.9" font-size="10.5" text-anchor="middle" fill="#2a2a2a">37</text><text x="718.8" y="324.9" font-size="10.5" text-anchor="middle" fill="#2a2a2a">46</text><text x="756.8" y="324.9" font-size="10.5" text-anchor="middle" fill="#2a2a2a">49</text><text x="792.0" y="324.9" font-size="10.5" text-anchor="middle" fill="#2a2a2a">46</text><text x="827.2" y="324.9" font-size="10.5" text-anchor="middle" fill="#2a2a2a">40</text><text x="862.6" y="324.9" font-size="10.5" text-anchor="middle" fill="#2a2a2a">37</text><text x="471" y="343.6" font-size="10.5" fill="#2a2a2a">VKSA В</text><text x="471" y="356.6" font-size="10.5" fill="#2a2a2a">окружение</text><text x="589.1" y="350.2" font-size="10.5" text-anchor="middle" fill="#2a2a2a">42</text><text x="637.0" y="350.2" font-size="10.5" text-anchor="middle" fill="#2a2a2a">17</text><text x="677.9" y="350.2" font-size="10.5" text-anchor="middle" fill="#2a2a2a">30</text><text x="718.8" y="350.2" font-size="10.5" text-anchor="middle" fill="#2a2a2a">35</text><text x="756.8" y="350.2" font-size="10.5" text-anchor="middle" fill="#2a2a2a">38</text><text x="792.0" y="350.2" font-size="10.5" text-anchor="middle" fill="#2a2a2a">37</text><text x="827.2" y="350.2" font-size="10.5" text-anchor="middle" fill="#2a2a2a">32</text><text x="862.6" y="350.2" font-size="10.5" text-anchor="middle" fill="#2a2a2a">28</text><text x="471" y="374.2" font-size="10.5" fill="#2a2a2a">Измерения при параметрах 524 м³/ч, 214 Па</text>
</svg></body></html>
